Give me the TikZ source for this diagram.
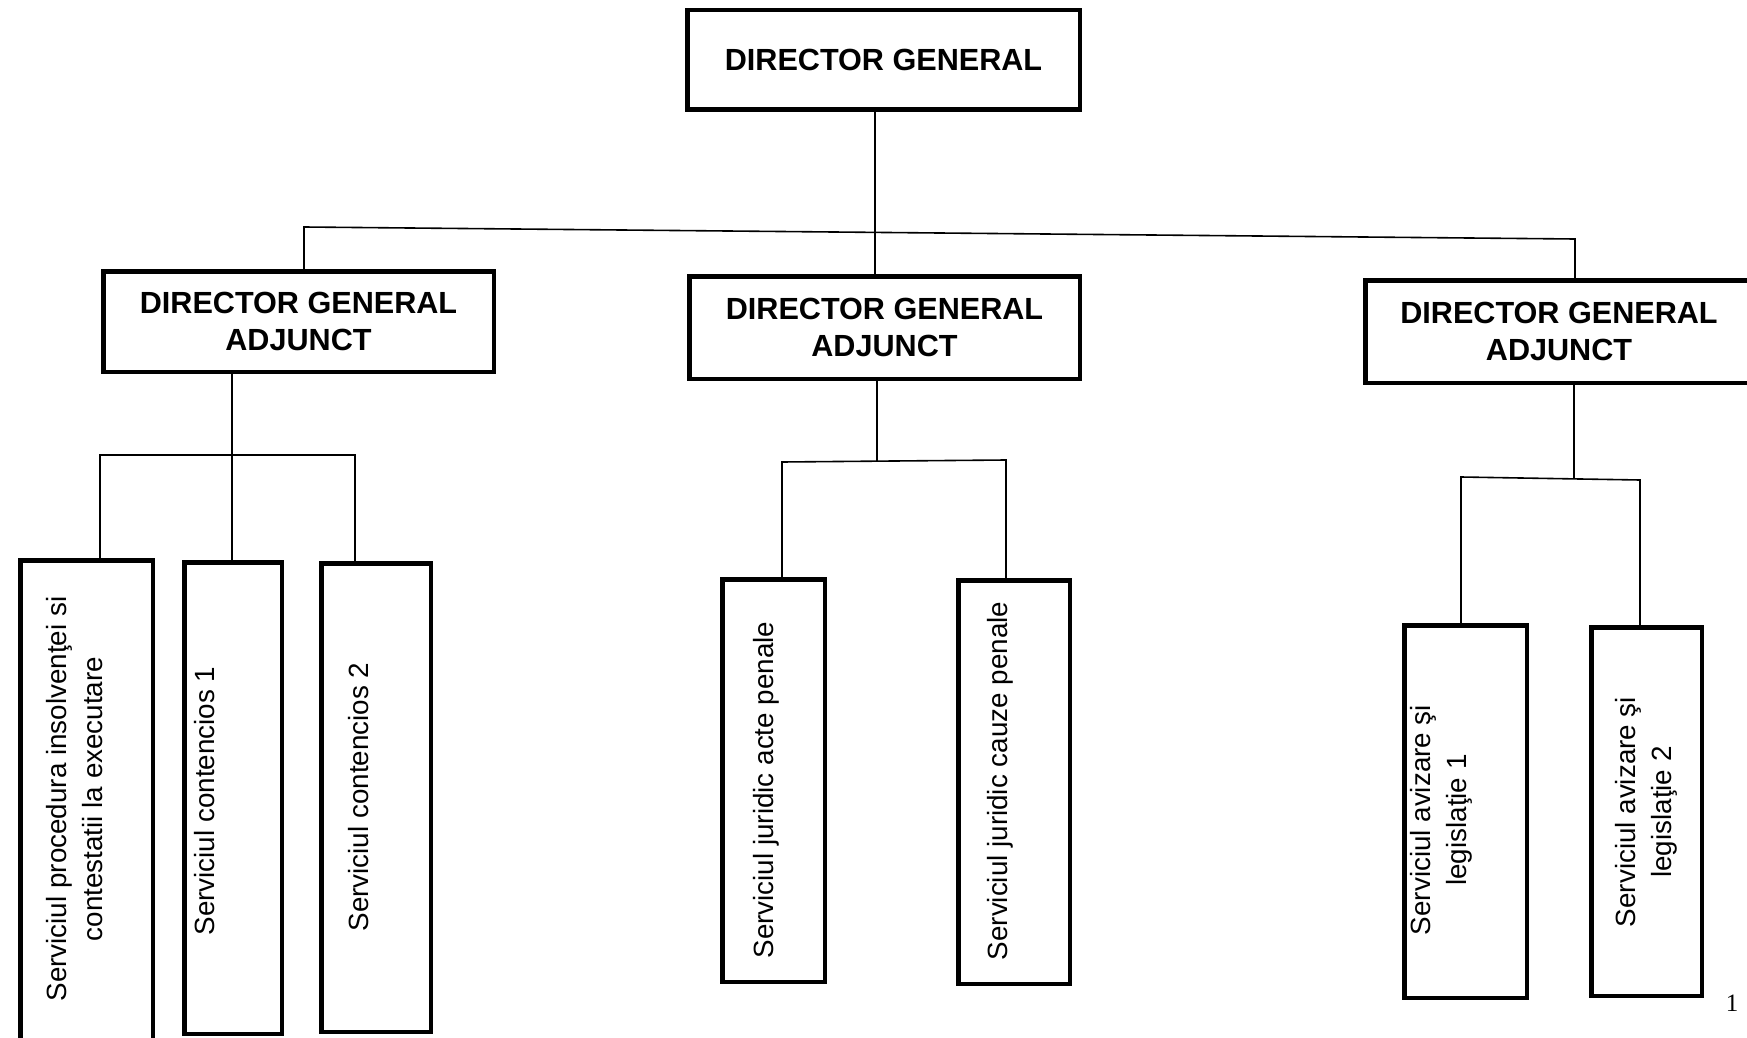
\documentclass[tikz,border=0pt]{standalone}
\usepackage{fontspec}
\setmainfont{Liberation Sans}
\newfontfamily\pnfont{Liberation Serif}
\begin{document}
\begin{tikzpicture}[x=0.5pt,y=-0.5pt,
  box/.style={draw, line width=2.25pt, inner sep=0pt, outer sep=0pt, fill=white},
  head/.style={box, font=\fontsize{15.3}{18.5}\selectfont\bfseries, align=center},
  txt/.style={rotate=90, align=center, inner sep=0pt, font=\fontsize{13.9}{18}\selectfont},
  conn/.style={line width=0.8pt}]
\useasboundingbox (0,0) rectangle (1747,1038);

% connectors
\coordinate (b0) at (875,231);
\coordinate (bL) at (304,227);
\coordinate (bR) at (1575,239);
\coordinate (sL) at (232,455);
\coordinate (sL1) at (100,455);
\coordinate (sL3) at (355,455);
\coordinate (sM) at (877,461);
\coordinate (sM1) at (782,462);
\coordinate (sM2) at (1006,460);
\coordinate (sR) at (1574,478);
\coordinate (sR1) at (1461,477);
\coordinate (sR2) at (1640,480);

% boxes
\node[head, minimum width=196.25pt, minimum height=49.75pt] (top) at (883.5,60) {DIRECTOR GENERAL};
\node[head, minimum width=195.25pt, minimum height=50.25pt] (adjL) at (298.5,321.5) {DIRECTOR GENERAL\\ADJUNCT};
\node[head, minimum width=195.25pt, minimum height=51.25pt] (adjM) at (884.5,327.5) {DIRECTOR GENERAL\\ADJUNCT};
\node[head, minimum width=193.75pt, minimum height=51.25pt] (adjR) at (1559,331.5) {DIRECTOR GENERAL\\ADJUNCT};

\node[box, minimum width=66.25pt, minimum height=243.75pt] (L1) at (86.5,804) {};
\node[box, minimum width=48.75pt, minimum height=235.75pt] (L2) at (233,798) {};
\node[box, minimum width=54.75pt, minimum height=234.25pt] (L3) at (376,797.5) {};
\node[box, minimum width=51.25pt, minimum height=201.25pt] (M1) at (773.5,780.5) {};
\node[box, minimum width=55.75pt, minimum height=201.75pt] (M2) at (1014,782) {};
\node[box, minimum width=61.25pt, minimum height=186.25pt] (R1) at (1465.5,811.5) {};
\node[box, minimum width=55.25pt, minimum height=184.25pt] (R2) at (1646.5,811.5) {};

\node[txt] (tL1) at (75,799) {Serviciul procedura insolvenţei si\\contestatii la executare};
\node[txt] (tL2) at (205,801) {Serviciul contencios 1};
\node[txt] (tL3) at (359,797) {Serviciul contencios 2};
\node[txt] (tM1) at (766,790) {Serviciul juridic acte penale};
\node[txt] (tM2) at (1000,781) {Serviciul juridic cauze penale};
\node[txt] (tR1) at (1441,820) {Serviciul avizare şi\\legislaţie 1};
\node[txt] (tR2) at (1646,812) {Serviciul avizare şi\\legislaţie 2};

\node[font=\pnfont\fontsize{12.5}{14}\selectfont, inner sep=0pt] (pn) at (1732,1003) {1};

% top level
\draw[conn] (top.south -| b0) -- (adjM.north -| b0);
\draw[conn] (adjL.north -| bL) -- (bL) -- (bR) -- (adjR.north -| bR);

% left group
\draw[conn] (adjL.south -| sL) -- (sL) -- (L2.north -| sL);
\draw[conn] (L1.north -| sL1) -- (sL1) -- (sL3) -- (L3.north -| sL3);

% middle group
\draw[conn] (adjM.south -| sM) -- (sM);
\draw[conn] (M1.north -| sM1) -- (sM1) -- (sM2) -- (M2.north -| sM2);

% right group
\draw[conn] (adjR.south -| sR) -- (sR);
\draw[conn] (R1.north -| sR1) -- (sR1) -- (sR2) -- (R2.north -| sR2);
\end{tikzpicture}
\end{document}
